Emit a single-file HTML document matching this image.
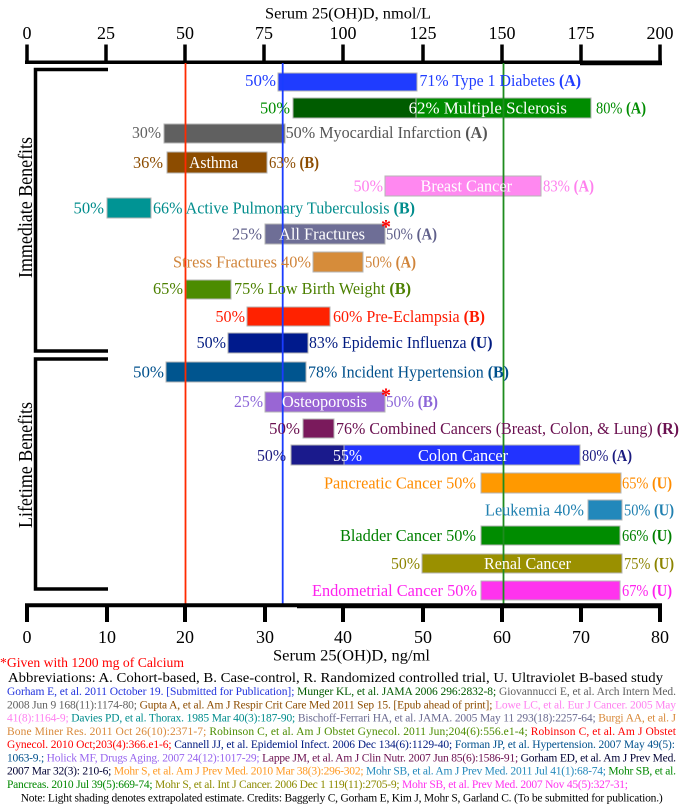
<!DOCTYPE html>
<html><head><meta charset="utf-8"><style>
html,body{margin:0;padding:0;background:#fff;}
svg{display:block;}
text{font-family:"Liberation Serif","Times New Roman",serif;}
</style></head><body>
<svg width="690" height="811" viewBox="0 0 690 811" xmlns="http://www.w3.org/2000/svg">
<rect width="690" height="811" fill="#fff"/>

<!-- Top axis -->
<text x="265" y="18.5" font-size="16" textLength="166" lengthAdjust="spacingAndGlyphs">Serum 25(OH)D, nmol/L</text>
<g font-size="18" text-anchor="middle">
<text x="27" y="39">0</text><text x="106" y="39">25</text><text x="185" y="39">50</text><text x="264" y="39">75</text><text x="343" y="39">100</text><text x="423" y="39">125</text><text x="502" y="39">150</text><text x="581" y="39">175</text><text x="660" y="39">200</text>
</g>
<g stroke="#000" stroke-width="3.5">
<line x1="25" y1="62.3" x2="662" y2="62.3"/>
<line x1="580" y1="63.5" x2="662" y2="63.5"/>
<line x1="27" y1="44.5" x2="27" y2="62"/><line x1="106" y1="44.5" x2="106" y2="62"/><line x1="185" y1="44.5" x2="185" y2="62"/><line x1="264" y1="44.5" x2="264" y2="62"/><line x1="343" y1="44.5" x2="343" y2="62"/><line x1="423" y1="44.5" x2="423" y2="62"/><line x1="502" y1="44.5" x2="502" y2="62"/><line x1="581" y1="44.5" x2="581" y2="62"/><line x1="660" y1="44.5" x2="660" y2="62"/>
</g>

<!-- Brackets -->
<g fill="none" stroke="#000" stroke-width="3.5">
<path d="M108,69.5 H35.5 V351 H108"/>
<path d="M108,359 H35.5 V589 H108"/>
</g>
<text transform="translate(32,207.5) rotate(-90)" font-size="20" text-anchor="middle" textLength="141" lengthAdjust="spacingAndGlyphs">Immediate Benefits</text>
<text transform="translate(32,465) rotate(-90)" font-size="20" text-anchor="middle" textLength="126" lengthAdjust="spacingAndGlyphs">Lifetime Benefits</text>

<!-- Bars -->
<g stroke="#b4b4b4" stroke-width="1">
<rect x="278" y="73" width="139" height="18" fill="#1f3cff"/>
<rect x="293" y="98" width="123" height="20" fill="#005c00"/>
<rect x="416" y="98" width="175" height="20" fill="#008c00"/>
<rect x="164" y="124" width="121" height="19" fill="#606060"/>
<rect x="167" y="152" width="100" height="21" fill="#8c4c00"/>
<rect x="385" y="176" width="156" height="20" fill="#ff88f0"/>
<rect x="107" y="198" width="44" height="20" fill="#009494"/>
<rect x="265" y="224" width="120" height="20" fill="#6e6e96"/>
<rect x="313" y="252" width="50" height="20" fill="#d68c3a"/>
<rect x="186" y="280" width="45" height="19" fill="#4c8c00"/>
<rect x="247" y="307" width="83" height="19" fill="#ff2200"/>
<rect x="228" y="333" width="80" height="20" fill="#001a8c"/>
<rect x="166" y="362" width="140" height="20" fill="#00558f"/>
<rect x="265" y="392" width="120" height="20" fill="#9966d4"/>
<rect x="303" y="419" width="31" height="19" fill="#7a1a5c"/>
<rect x="291" y="445" width="53" height="20" fill="#1a1a8c"/>
<rect x="344" y="445" width="236" height="20" fill="#2233ff"/>
<rect x="481" y="473" width="140" height="20" fill="#ff9900"/>
<rect x="588" y="500" width="34" height="20" fill="#2288bb"/>
<rect x="481" y="526" width="139" height="19" fill="#008c00"/>
<rect x="422" y="554" width="200" height="19" fill="#9a9000"/>
<rect x="481" y="581" width="139" height="19" fill="#ff33ee"/>
</g>

<!-- Reference lines -->
<line x1="185.5" y1="63" x2="185.5" y2="604" stroke="#ff2a00" stroke-width="1.8"/>
<line x1="282.7" y1="63" x2="282.7" y2="604" stroke="#1a3cff" stroke-width="1.8"/>
<line x1="503.5" y1="63" x2="503.5" y2="604" stroke="#1e8c1e" stroke-width="1.8"/>

<!-- Bar labels -->
<g font-size="17" lengthAdjust="spacingAndGlyphs">
<text x="245" y="86" fill="#1f3cff" textLength="31" lengthAdjust="spacingAndGlyphs">50%</text>
<text x="419.5" y="86" fill="#1f3cff" textLength="161.5" lengthAdjust="spacingAndGlyphs">71% Type 1 Diabetes <tspan font-weight="bold">(A)</tspan></text>

<text x="260" y="113.5" fill="#008c00" textLength="30" lengthAdjust="spacingAndGlyphs">50%</text>
<text x="408.6" y="113.5" fill="#fff" textLength="158.4" lengthAdjust="spacingAndGlyphs">62%  Multiple Sclerosis</text>
<text x="596" y="113.5" fill="#008c00" textLength="50" lengthAdjust="spacingAndGlyphs">80% <tspan font-weight="bold">(A)</tspan></text>

<text x="132" y="138" fill="#606060" textLength="29" lengthAdjust="spacingAndGlyphs">30%</text>
<text x="285.6" y="138" fill="#555" textLength="202" lengthAdjust="spacingAndGlyphs">50%  Myocardial Infarction <tspan font-weight="bold">(A)</tspan></text>

<text x="133" y="168" fill="#8c4c00" textLength="30" lengthAdjust="spacingAndGlyphs">36%</text>
<text x="189" y="168" fill="#fff" textLength="49" lengthAdjust="spacingAndGlyphs">Asthma</text>
<text x="269" y="168" fill="#8c4c00" textLength="50" lengthAdjust="spacingAndGlyphs">63% <tspan font-weight="bold">(B)</tspan></text>

<text x="353.5" y="191.5" fill="#ff80ee" textLength="29.5" lengthAdjust="spacingAndGlyphs">50%</text>
<text x="420.5" y="191.5" fill="#fff" textLength="91.5" lengthAdjust="spacingAndGlyphs">Breast Cancer</text>
<text x="543" y="191.5" fill="#ff80ee" textLength="51" lengthAdjust="spacingAndGlyphs">83% <tspan font-weight="bold">(A)</tspan></text>

<text x="73.5" y="213.5" fill="#008c8c" textLength="30.5" lengthAdjust="spacingAndGlyphs">50%</text>
<text x="153" y="213.5" fill="#008c8c" textLength="262" lengthAdjust="spacingAndGlyphs">66% Active Pulmonary Tuberculosis <tspan font-weight="bold">(B)</tspan></text>

<text x="232" y="239.5" fill="#5f5f8a" textLength="30" lengthAdjust="spacingAndGlyphs">25%</text>
<text x="279" y="239.5" fill="#fff" textLength="86" lengthAdjust="spacingAndGlyphs">All Fractures</text>
<text x="386" y="239.5" fill="#5f5f8a" textLength="51" lengthAdjust="spacingAndGlyphs">50% <tspan font-weight="bold">(A)</tspan></text>

<text x="173" y="267.5" fill="#d0843a" textLength="138" lengthAdjust="spacingAndGlyphs">Stress Fractures 40%</text>
<text x="365" y="267.5" fill="#d0843a" textLength="51" lengthAdjust="spacingAndGlyphs">50% <tspan font-weight="bold">(A)</tspan></text>

<text x="153" y="294" fill="#4c8000" textLength="30" lengthAdjust="spacingAndGlyphs">65%</text>
<text x="234" y="294" fill="#4c8000" textLength="177" lengthAdjust="spacingAndGlyphs">75% Low Birth Weight <tspan font-weight="bold">(B)</tspan></text>

<text x="215.5" y="322" fill="#ff1a00" textLength="29.5" lengthAdjust="spacingAndGlyphs">50%</text>
<text x="333" y="322" fill="#ff1a00" textLength="152" lengthAdjust="spacingAndGlyphs">60% Pre-Eclampsia <tspan font-weight="bold">(B)</tspan></text>

<text x="196.6" y="348" fill="#001a80" textLength="29.4" lengthAdjust="spacingAndGlyphs">50%</text>
<text x="309" y="348" fill="#001a80" textLength="183.5" lengthAdjust="spacingAndGlyphs">83% Epidemic Influenza <tspan font-weight="bold">(U)</tspan></text>

<text x="133" y="377.5" fill="#00508c" textLength="31" lengthAdjust="spacingAndGlyphs">50%</text>
<text x="308" y="377.5" fill="#00508c" textLength="201" lengthAdjust="spacingAndGlyphs">78% Incident Hypertension <tspan font-weight="bold">(B)</tspan></text>

<text x="234" y="407" fill="#8c66d8" textLength="29" lengthAdjust="spacingAndGlyphs">25%</text>
<text x="282" y="407" fill="#fff" textLength="85" lengthAdjust="spacingAndGlyphs">Osteoporosis</text>
<text x="386" y="407" fill="#8c66d8" textLength="52" lengthAdjust="spacingAndGlyphs">50% <tspan font-weight="bold">(B)</tspan></text>

<text x="269" y="434" fill="#6a1050" textLength="31" lengthAdjust="spacingAndGlyphs">50%</text>
<text x="336" y="434" fill="#6a1050" textLength="343" lengthAdjust="spacingAndGlyphs">76% Combined Cancers (Breast, Colon, &amp; Lung) <tspan font-weight="bold">(R)</tspan></text>

<text x="257" y="461" fill="#1a1a80" textLength="29" lengthAdjust="spacingAndGlyphs">50%</text>
<text x="333" y="461" fill="#fff" textLength="29" lengthAdjust="spacingAndGlyphs">55%</text>
<text x="418" y="461" fill="#fff" textLength="90" lengthAdjust="spacingAndGlyphs">Colon Cancer</text>
<text x="582" y="461" fill="#1a1a80" textLength="50" lengthAdjust="spacingAndGlyphs">80% <tspan font-weight="bold">(A)</tspan></text>

<text x="324" y="488.5" fill="#ff8c00" textLength="152" lengthAdjust="spacingAndGlyphs">Pancreatic Cancer 50%</text>
<text x="622" y="488.5" fill="#ff8c00" textLength="50" lengthAdjust="spacingAndGlyphs">65% <tspan font-weight="bold">(U)</tspan></text>

<text x="485" y="515.5" fill="#2080b0" textLength="99" lengthAdjust="spacingAndGlyphs">Leukemia 40%</text>
<text x="624" y="515.5" fill="#2080b0" textLength="50" lengthAdjust="spacingAndGlyphs">50% <tspan font-weight="bold">(U)</tspan></text>

<text x="340" y="541" fill="#008000" textLength="136" lengthAdjust="spacingAndGlyphs">Bladder Cancer 50%</text>
<text x="622" y="541" fill="#008000" textLength="50" lengthAdjust="spacingAndGlyphs">66% <tspan font-weight="bold">(U)</tspan></text>

<text x="391" y="569" fill="#8c8400" textLength="29" lengthAdjust="spacingAndGlyphs">50%</text>
<text x="484" y="569" fill="#fff" textLength="87" lengthAdjust="spacingAndGlyphs">Renal Cancer</text>
<text x="624" y="569" fill="#8c8400" textLength="50" lengthAdjust="spacingAndGlyphs">75% <tspan font-weight="bold">(U)</tspan></text>

<text x="312" y="596" fill="#ff22ee" textLength="165" lengthAdjust="spacingAndGlyphs">Endometrial Cancer 50%</text>
<text x="622" y="596" fill="#ff22ee" textLength="50" lengthAdjust="spacingAndGlyphs">67% <tspan font-weight="bold">(U)</tspan></text>
</g>
<text x="381" y="233" font-size="20" font-weight="bold" fill="#ff0000">*</text>
<text x="381" y="401.5" font-size="20" font-weight="bold" fill="#ff0000">*</text>

<!-- Bottom axis -->
<g stroke="#000" stroke-width="4">
<line x1="25" y1="605.3" x2="662" y2="605.3"/>
<line x1="297" y1="606.3" x2="662" y2="606.3"/>
<line x1="27" y1="605" x2="27" y2="622"/><line x1="107" y1="605" x2="107" y2="622"/><line x1="185" y1="605" x2="185" y2="622"/><line x1="265" y1="605" x2="265" y2="622"/><line x1="343" y1="605" x2="343" y2="622"/><line x1="423" y1="605" x2="423" y2="622"/><line x1="502" y1="605" x2="502" y2="622"/><line x1="581" y1="605" x2="581" y2="622"/><line x1="660" y1="605" x2="660" y2="622"/>
</g>
<g font-size="18" text-anchor="middle">
<text x="27" y="643">0</text><text x="107" y="643">10</text><text x="185" y="643">20</text><text x="265" y="643">30</text><text x="343" y="643">40</text><text x="423" y="643">50</text><text x="502" y="643">60</text><text x="581" y="643">70</text><text x="660" y="643">80</text>
</g>
<text x="273" y="660.5" font-size="16" textLength="157" lengthAdjust="spacingAndGlyphs">Serum 25(OH)D, ng/ml</text>
<text x="0" y="667" font-size="14" fill="#ff0000" textLength="184" lengthAdjust="spacingAndGlyphs">*Given with 1200 mg of Calcium</text>
<text x="8" y="682" font-size="14" textLength="655" lengthAdjust="spacingAndGlyphs">Abbreviations: A. Cohort-based, B. Case-control, R. Randomized controlled trial, U. Ultraviolet B-based study</text>

<!-- References -->
<g font-size="11.5">
<text x="7" y="695" textLength="669" lengthAdjust="spacing"><tspan fill="#2233dd">Gorham E, et al. 2011 October 19. [Submitted for Publication];</tspan><tspan fill="#005a00"> Munger KL, et al. JAMA 2006 296:2832-8;</tspan><tspan fill="#606060"> Giovannucci E, et al. Arch Intern Med.</tspan></text>
<text x="7" y="708.3" textLength="669" lengthAdjust="spacing"><tspan fill="#606060">2008 Jun 9 168(11):1174-80;</tspan><tspan fill="#8c4c00"> Gupta A, et al. Am J Respir Crit Care Med 2011 Sep 15. [Epub ahead of print];</tspan><tspan fill="#ff80f0"> Lowe LC, et al. Eur J Cancer. 2005 May</tspan></text>
<text x="7" y="721.5" textLength="669" lengthAdjust="spacing"><tspan fill="#ff80f0">41(8):1164-9;</tspan><tspan fill="#008c8c"> Davies PD, et al. Thorax. 1985 Mar 40(3):187-90;</tspan><tspan fill="#6a6a90"> Bischoff-Ferrari HA, et al. JAMA. 2005 May 11 293(18):2257-64;</tspan><tspan fill="#d8893a"> Burgi AA, et al. J</tspan></text>
<text x="7" y="734.8" textLength="669" lengthAdjust="spacing"><tspan fill="#d8893a">Bone Miner Res. 2011 Oct 26(10):2371-7;</tspan><tspan fill="#4c8c00"> Robinson C, et al. Am J Obstet Gynecol. 2011 Jun;204(6):556.e1-4;</tspan><tspan fill="#ff0000"> Robinson C, et al. Am J Obstet</tspan></text>
<text x="7" y="748" textLength="668" lengthAdjust="spacing"><tspan fill="#ff0000">Gynecol. 2010 Oct;203(4):366.e1-6;</tspan><tspan fill="#001a80"> Cannell JJ, et al. Epidemiol Infect. 2006 Dec 134(6):1129-40;</tspan><tspan fill="#00508c"> Forman JP, et al. Hypertension. 2007 May 49(5):</tspan></text>
<text x="7" y="761.3" textLength="669" lengthAdjust="spacing"><tspan fill="#00508c">1063-9.;</tspan><tspan fill="#9966ee"> Holick MF, Drugs Aging. 2007 24(12):1017-29;</tspan><tspan fill="#6a1050"> Lappe JM, et al. Am J Clin Nutr. 2007 Jun 85(6):1586-91;</tspan><tspan fill="#000033"> Gorham ED, et al. Am J Prev Med.</tspan></text>
<text x="7" y="774.5" textLength="669" lengthAdjust="spacing"><tspan fill="#000033">2007 Mar 32(3): 210-6;</tspan><tspan fill="#ff9922"> Mohr S, et al. Am J Prev Med. 2010 Mar 38(3):296-302;</tspan><tspan fill="#2288bb"> Mohr SB, et al. Am J Prev Med. 2011 Jul 41(1):68-74;</tspan><tspan fill="#008800"> Mohr SB, et al.</tspan></text>
<text x="7" y="788" textLength="621" lengthAdjust="spacing"><tspan fill="#008800">Pancreas. 2010 Jul 39(5):669-74;</tspan><tspan fill="#8c8a00"> Mohr S, et al. Int J Cancer. 2006 Dec 1 119(11):2705-9;</tspan><tspan fill="#ff33ee"> Mohr SB, et al. Prev Med. 2007 Nov 45(5):327-31;</tspan></text>
<text x="20.7" y="801.5" textLength="642" lengthAdjust="spacing" fill="#000">Note: Light shading denotes extrapolated estimate.  Credits: Baggerly C, Gorham E, Kim J, Mohr S, Garland C. (To be submitted for publication.)</text>
</g>
</svg>
</body></html>
